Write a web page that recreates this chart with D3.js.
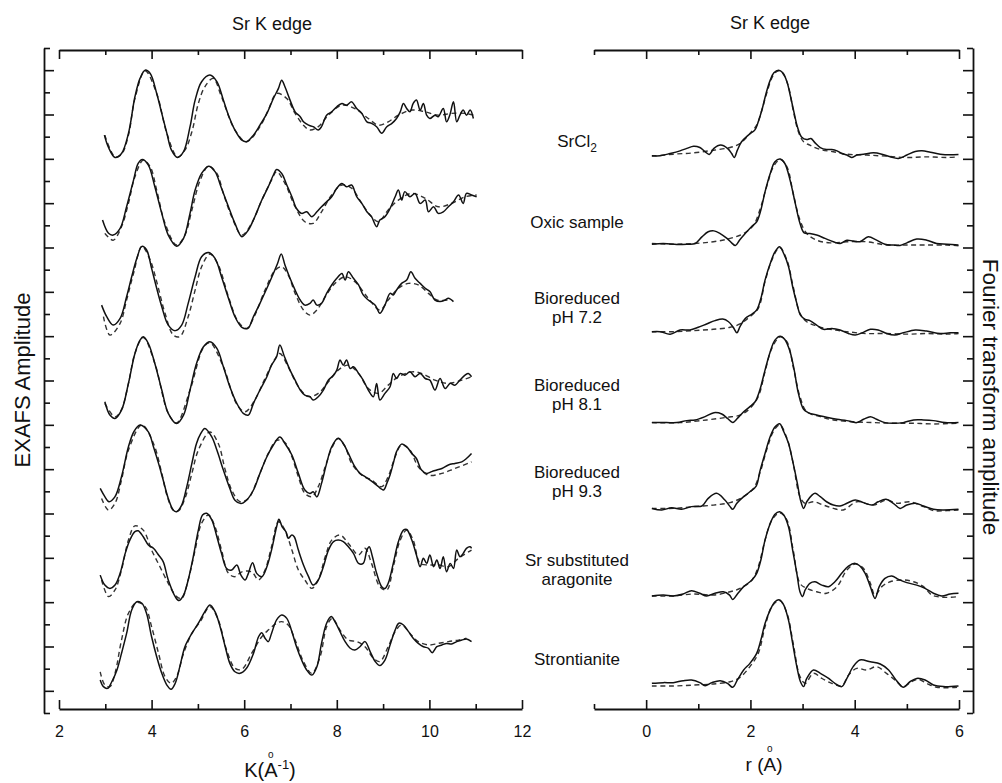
<!DOCTYPE html>
<html>
<head>
<meta charset="utf-8">
<script src="https://cdn.jsdelivr.net/npm/d3@7"></script>
<style>
  body { margin: 0; background: #fff; }
  text { font-family: "Liberation Sans", Arial, sans-serif; fill: #111; }
</style>
</head>
<body>
<svg width="1002" height="783"></svg>
<script>
//sample names (one or two lines each)
const sampleLabels = [["SrCl2"], ["Oxic sample"], ["Bioreduced", "pH 7.2"], ["Bioreduced", "pH 8.1"],
	["Bioreduced", "pH 9.3"], ["Sr substituted", "aragonite"], ["Strontianite"]];
//vertical stacking of the traces
const exafsCenter = [27, 23, 19, 15, 11, 7, 3];
const ftBase = [25, 21, 17, 13, 9, 5, 1];
//tick labels
const kTicks = [2, 4, 6, 8, 10, 12];
const kMinor = [3, 5, 7, 9, 11];
const rTicks = [0, 2, 4, 6];
const rMinor = [-1, 1, 3, 5];

//EXAFS k-space: [k, chi] measured / fitted
const kSrCl2 = [[2.98,-0.93],[3.07,-1.49],[3.21,-1.94],[3.35,-1.76],[3.50,-0.85],[3.64,0.80],[3.75,1.63],[3.86,2.00],[3.97,1.85],[4.11,0.95],[4.22,0.05],[4.33,-0.85],[4.43,-1.61],[4.56,-1.94],[4.69,-1.68],[4.83,-0.55],[4.94,0.65],[5.08,1.48],[5.26,1.78],[5.41,1.48],[5.55,0.65],[5.66,-0.03],[5.80,-0.70],[5.95,-1.16],[6.05,-1.23],[6.20,-0.93],[6.34,-0.48],[6.49,0.05],[6.63,0.72],[6.74,1.18],[6.81,1.55],[6.88,1.25],[6.99,0.65],[7.10,0.12],[7.21,-0.10],[7.28,-0.33],[7.39,-0.48],[7.49,-0.55],[7.60,-0.70],[7.67,-0.55],[7.78,-0.03],[7.89,0.12],[8.00,0.35],[8.11,0.50],[8.21,0.42],[8.32,0.57],[8.43,0.27],[8.54,0.05],[8.65,-0.33],[8.75,-0.40],[8.86,-0.55],[8.97,-0.85],[9.08,-0.55],[9.19,-0.40],[9.29,-0.18],[9.37,0.12],[9.44,0.50],[9.51,0.27],[9.58,0.12],[9.65,0.50],[9.72,0.65],[9.80,0.20],[9.87,0.50],[9.94,-0.03],[10.01,-0.18],[10.12,-0.03],[10.19,-0.10],[10.30,0.27],[10.37,-0.33],[10.44,-0.03],[10.52,0.57],[10.59,-0.33],[10.66,-0.03],[10.73,0.20],[10.80,-0.03],[10.88,0.20],[10.95,-0.18]];
const kSrCl2Fit = [[2.99,-0.93],[3.21,-1.91],[3.35,-1.79],[3.50,-0.93],[3.64,0.72],[3.86,1.97],[4.11,0.95],[4.33,-0.85],[4.56,-1.91],[4.72,-1.61],[4.87,-0.78],[5.01,0.50],[5.15,1.25],[5.33,1.63],[5.51,0.80],[5.80,-0.70],[6.05,-1.23],[6.34,-0.55],[6.52,0.20],[6.70,0.95],[6.92,0.72],[7.10,0.05],[7.28,-0.48],[7.42,-0.70],[7.60,-0.55],[7.82,-0.03],[8.11,0.42],[8.39,0.27],[8.68,-0.18],[8.90,-0.48],[9.11,-0.33],[9.33,-0.03],[9.62,0.20],[9.91,0.12],[10.19,-0.03],[10.48,0.05],[10.77,0.05],[10.95,-0.03]];
const kOxic = [[2.94,-0.76],[3.07,-1.36],[3.17,-1.44],[3.32,-1.14],[3.46,-0.16],[3.61,1.04],[3.71,1.79],[3.80,1.97],[3.93,1.72],[4.07,0.74],[4.22,-0.46],[4.36,-1.44],[4.54,-1.94],[4.69,-1.59],[4.83,-0.46],[4.94,0.59],[5.08,1.34],[5.23,1.67],[5.37,1.42],[5.51,0.67],[5.66,-0.16],[5.80,-0.91],[5.95,-1.51],[6.09,-1.21],[6.23,-0.61],[6.38,0.14],[6.52,0.74],[6.63,1.27],[6.70,1.52],[6.81,1.34],[6.92,0.82],[7.03,0.29],[7.13,-0.24],[7.24,-0.46],[7.35,-0.39],[7.46,-0.61],[7.57,-0.39],[7.67,-0.16],[7.78,0.06],[7.89,0.29],[8.00,0.67],[8.11,0.89],[8.21,0.74],[8.32,0.82],[8.43,0.29],[8.54,-0.01],[8.65,-0.39],[8.75,-0.61],[8.86,-1.06],[8.93,-0.76],[9.04,-0.61],[9.15,-0.24],[9.26,0.29],[9.33,0.59],[9.40,0.14],[9.47,0.52],[9.58,0.29],[9.69,0.44],[9.80,-0.01],[9.91,0.14],[9.98,-0.39],[10.09,-0.16],[10.19,-0.46],[10.30,-0.39],[10.41,-0.16],[10.52,0.06],[10.63,0.37],[10.73,-0.01],[10.80,0.44],[10.91,0.37],[11.02,0.29]];
const kOxicFit = [[2.99,-1.36],[3.17,-1.67],[3.35,-1.06],[3.50,-0.01],[3.64,1.19],[3.82,1.94],[3.97,1.64],[4.11,0.59],[4.29,-0.91],[4.54,-1.89],[4.72,-1.44],[4.87,-0.31],[5.05,1.04],[5.23,1.67],[5.41,1.34],[5.55,0.44],[5.73,-0.61],[5.95,-1.44],[6.16,-0.91],[6.38,0.14],[6.59,1.04],[6.70,1.42],[6.88,0.89],[7.10,-0.16],[7.31,-0.84],[7.49,-0.91],[7.67,-0.39],[7.89,0.37],[8.11,0.82],[8.32,0.67],[8.54,-0.01],[8.75,-0.61],[8.90,-0.84],[9.11,-0.31],[9.33,0.14],[9.62,0.44],[9.91,0.22],[10.19,-0.16],[10.48,-0.01],[10.77,0.29],[11.02,0.37]];
const kPh72 = [[2.92,-0.60],[3.03,-1.12],[3.17,-1.50],[3.32,-1.20],[3.46,-0.22],[3.57,0.68],[3.68,1.50],[3.79,2.05],[3.89,1.90],[4.00,1.06],[4.11,0.16],[4.22,-0.67],[4.36,-1.50],[4.51,-1.75],[4.65,-1.50],[4.79,-0.52],[4.94,0.68],[5.08,1.58],[5.23,1.77],[5.37,1.51],[5.51,0.68],[5.66,-0.29],[5.80,-1.12],[5.95,-1.60],[6.08,-1.65],[6.20,-1.12],[6.34,-0.52],[6.49,0.16],[6.63,0.83],[6.72,1.28],[6.80,1.71],[6.88,1.21],[6.99,0.61],[7.10,0.08],[7.21,-0.37],[7.31,-0.60],[7.42,-0.52],[7.49,-0.37],[7.57,-0.60],[7.67,-0.52],[7.78,-0.07],[7.89,0.31],[8.00,0.61],[8.11,0.83],[8.18,0.53],[8.25,0.91],[8.36,0.61],[8.47,0.31],[8.57,-0.14],[8.68,-0.37],[8.83,-0.60],[8.93,-0.97],[9.04,-0.60],[9.15,-0.07],[9.22,-0.14],[9.29,0.08],[9.40,0.38],[9.51,0.53],[9.60,0.91],[9.69,0.61],[9.80,0.38],[9.91,0.16],[10.01,0.01],[10.12,-0.37],[10.23,-0.44],[10.34,-0.37],[10.41,-0.29],[10.52,-0.44]];
const kPh72Fit = [[2.96,-1.12],[3.10,-1.95],[3.32,-1.42],[3.46,-0.37],[3.61,0.83],[3.79,2.05],[3.97,1.43],[4.11,0.46],[4.29,-0.97],[4.47,-1.95],[4.61,-2.02],[4.79,-1.12],[4.94,0.08],[5.08,1.13],[5.26,1.71],[5.44,1.21],[5.66,-0.22],[5.87,-1.35],[6.05,-1.65],[6.23,-1.05],[6.45,0.08],[6.67,0.98],[6.81,1.13],[6.95,0.76],[7.10,-0.07],[7.28,-0.82],[7.42,-1.05],[7.57,-0.82],[7.75,-0.22],[7.96,0.38],[8.18,0.68],[8.39,0.46],[8.68,-0.29],[8.93,-0.82],[9.11,-0.37],[9.33,0.16],[9.55,0.38],[9.76,0.31],[9.98,-0.07],[10.16,-0.37],[10.41,-0.37]];
const kPh81 = [[2.99,-0.96],[3.10,-1.56],[3.21,-1.71],[3.35,-1.34],[3.50,-0.13],[3.64,1.22],[3.75,1.82],[3.82,1.97],[3.93,1.67],[4.07,0.77],[4.22,-0.43],[4.36,-1.48],[4.54,-1.94],[4.69,-1.56],[4.83,-0.43],[4.97,0.77],[5.12,1.52],[5.26,1.75],[5.41,1.45],[5.55,0.62],[5.69,-0.28],[5.84,-1.03],[5.98,-1.48],[6.09,-1.56],[6.20,-1.03],[6.34,-0.43],[6.49,0.17],[6.59,0.69],[6.70,1.07],[6.77,1.60],[6.87,1.07],[6.99,0.47],[7.10,0.02],[7.21,-0.43],[7.31,-0.66],[7.42,-0.73],[7.49,-0.88],[7.60,-0.73],[7.71,-0.43],[7.82,0.02],[7.93,0.24],[8.00,0.47],[8.07,0.92],[8.14,0.69],[8.21,0.92],[8.29,0.54],[8.36,0.62],[8.47,0.32],[8.57,0.02],[8.68,-0.43],[8.79,-0.73],[8.86,-0.13],[8.93,-0.88],[9.04,-0.58],[9.15,-0.28],[9.22,0.32],[9.29,0.09],[9.37,0.32],[9.47,0.24],[9.58,0.39],[9.69,0.17],[9.80,0.32],[9.91,0.09],[10.01,0.02],[10.12,-0.43],[10.23,0.09],[10.34,-0.36],[10.45,-0.13],[10.55,-0.21],[10.66,0.02],[10.77,0.24],[10.84,0.32],[10.91,0.17]];
const kPh81Fit = [[2.99,-1.03],[3.21,-1.64],[3.35,-1.31],[3.50,-0.13],[3.64,1.22],[3.82,1.94],[4.07,0.77],[4.36,-1.48],[4.54,-1.91],[4.83,-0.43],[5.12,1.49],[5.26,1.70],[5.55,0.62],[5.84,-1.07],[6.02,-1.41],[6.23,-0.88],[6.45,0.09],[6.67,0.99],[6.77,1.22],[6.95,0.62],[7.17,-0.28],[7.39,-0.73],[7.60,-0.58],[7.82,-0.06],[8.03,0.47],[8.25,0.69],[8.47,0.32],[8.68,-0.36],[8.90,-0.58],[9.11,-0.21],[9.33,0.17],[9.62,0.39],[9.83,0.32],[10.12,0.02],[10.41,-0.13],[10.70,0.02],[10.91,0.17]];
const kPh93 = [[2.89,-0.87],[2.99,-1.24],[3.08,-1.47],[3.21,-1.24],[3.35,-0.34],[3.50,1.01],[3.62,1.70],[3.75,1.99],[3.93,1.68],[4.04,1.01],[4.15,0.26],[4.25,-0.49],[4.36,-1.32],[4.47,-1.85],[4.54,-1.92],[4.65,-1.62],[4.76,-0.79],[4.87,0.26],[4.97,1.16],[5.06,1.60],[5.15,1.84],[5.30,1.46],[5.41,0.86],[5.55,-0.04],[5.69,-0.87],[5.80,-1.40],[5.93,-1.55],[6.05,-1.40],[6.20,-0.94],[6.34,-0.19],[6.49,0.56],[6.63,1.09],[6.77,1.45],[6.88,1.16],[7.03,0.64],[7.17,-0.19],[7.31,-0.94],[7.42,-1.10],[7.49,-1.02],[7.57,-1.25],[7.67,-0.64],[7.78,0.26],[7.89,1.01],[8.03,1.40],[8.14,1.16],[8.25,0.71],[8.39,0.11],[8.50,-0.19],[8.61,-0.34],[8.72,-0.49],[8.86,-0.72],[9.01,-0.94],[9.08,-0.64],[9.15,-0.26],[9.22,0.26],[9.29,0.79],[9.40,1.13],[9.51,1.01],[9.62,0.71],[9.72,0.48],[9.83,-0.04],[9.94,-0.19],[10.05,-0.11],[10.16,-0.04],[10.27,0.03],[10.41,0.19],[10.55,0.26],[10.70,0.33],[10.80,0.48],[10.91,0.71]];
const kPh93Fit = [[2.92,-1.32],[3.07,-1.85],[3.21,-1.54],[3.35,-0.49],[3.50,0.86],[3.79,2.00],[4.04,1.16],[4.22,-0.19],[4.33,-1.17],[4.47,-1.85],[4.58,-1.88],[4.72,-1.32],[4.87,-0.19],[5.01,0.86],[5.26,1.68],[5.44,1.16],[5.59,-0.04],[5.73,-0.94],[5.91,-1.47],[6.09,-1.32],[6.31,-0.34],[6.52,0.71],[6.70,1.30],[6.88,1.20],[7.03,0.56],[7.17,-0.34],[7.31,-1.09],[7.46,-1.24],[7.60,-0.79],[7.75,0.11],[7.89,0.94],[8.03,1.38],[8.18,1.01],[8.32,0.26],[8.54,-0.27],[8.75,-0.49],[8.97,-0.79],[9.11,-0.34],[9.26,0.56],[9.40,1.09],[9.58,0.86],[9.76,0.11],[9.98,-0.27],[10.27,-0.19],[10.55,0.03],[10.91,0.33]];
const kArag = [[2.89,-0.78],[2.99,-1.23],[3.10,-1.38],[3.21,-1.23],[3.32,-0.70],[3.43,0.20],[3.53,0.80],[3.64,1.18],[3.71,1.22],[3.82,0.95],[3.93,0.58],[4.04,0.43],[4.15,0.13],[4.25,-0.17],[4.36,-1.00],[4.51,-1.75],[4.59,-1.93],[4.69,-1.68],[4.79,-1.00],[4.90,0.05],[5.01,1.25],[5.10,1.93],[5.19,2.01],[5.30,1.71],[5.41,0.95],[5.51,0.20],[5.62,-0.48],[5.73,-0.55],[5.84,-0.32],[5.93,-0.78],[6.02,-1.00],[6.09,-0.70],[6.18,-0.22],[6.27,-0.70],[6.38,-0.85],[6.49,-0.40],[6.59,0.35],[6.70,1.40],[6.75,1.74],[6.82,1.40],[6.90,1.18],[6.95,0.88],[7.03,1.03],[7.08,0.95],[7.17,0.35],[7.28,-0.32],[7.39,-0.85],[7.49,-1.23],[7.60,-1.00],[7.71,-0.40],[7.82,0.35],[7.93,0.73],[8.03,0.80],[8.14,0.73],[8.25,0.50],[8.36,0.20],[8.47,-0.25],[8.57,-0.25],[8.65,0.35],[8.70,0.50],[8.77,0.05],[8.86,-0.70],[8.97,-1.30],[9.04,-1.38],[9.11,-1.15],[9.22,-0.25],[9.33,0.73],[9.44,1.25],[9.51,1.28],[9.62,0.80],[9.72,0.13],[9.80,-0.40],[9.87,-0.02],[9.94,-0.25],[10.01,0.13],[10.09,-0.40],[10.16,-0.10],[10.23,-0.48],[10.30,0.05],[10.37,-0.63],[10.45,-0.25],[10.52,-0.48],[10.59,0.35],[10.66,0.05],[10.73,0.20],[10.80,0.43],[10.88,0.50],[10.91,0.43]];
const kAragFit = [[2.92,-1.00],[3.07,-1.75],[3.21,-1.45],[3.35,-0.55],[3.50,0.80],[3.64,1.44],[3.82,1.25],[4.00,0.35],[4.18,-0.40],[4.36,-1.15],[4.54,-1.75],[4.65,-1.83],[4.79,-1.00],[4.94,0.35],[5.08,1.56],[5.23,1.93],[5.37,1.40],[5.51,0.35],[5.66,-0.70],[5.80,-0.85],[5.95,-0.63],[6.16,-0.63],[6.31,-1.00],[6.45,-0.55],[6.59,0.50],[6.74,1.63],[6.88,1.25],[7.03,0.35],[7.17,-0.55],[7.31,-1.00],[7.46,-1.38],[7.60,-1.00],[7.75,0.05],[7.89,0.80],[8.07,1.03],[8.25,0.65],[8.47,0.13],[8.61,0.43],[8.75,-0.25],[8.93,-1.30],[9.08,-1.45],[9.22,-0.40],[9.37,0.80],[9.51,1.25],[9.65,0.80],[9.80,-0.25],[9.98,-0.32],[10.19,-0.32],[10.41,-0.40],[10.63,-0.02],[10.91,0.35]];
const kStron = [[2.89,-1.51],[2.96,-1.81],[3.05,-1.89],[3.14,-1.59],[3.25,-1.07],[3.35,-0.31],[3.46,0.59],[3.57,1.65],[3.68,2.02],[3.79,1.95],[3.89,1.50],[4.00,0.44],[4.11,-0.46],[4.22,-1.21],[4.33,-1.74],[4.42,-1.93],[4.51,-1.66],[4.61,-0.91],[4.72,-0.01],[4.87,0.59],[5.01,1.05],[5.15,1.57],[5.26,1.87],[5.37,1.57],[5.48,0.89],[5.59,-0.01],[5.69,-0.76],[5.80,-1.14],[5.91,-1.21],[6.05,-0.98],[6.20,-0.31],[6.31,0.44],[6.38,0.62],[6.45,0.37],[6.52,0.22],[6.59,0.59],[6.70,1.20],[6.81,1.42],[6.92,1.27],[7.03,0.67],[7.13,-0.01],[7.24,-0.61],[7.35,-1.06],[7.46,-1.29],[7.57,-0.91],[7.67,0.14],[7.78,1.05],[7.88,1.35],[7.96,1.12],[8.07,0.67],[8.18,0.22],[8.29,-0.08],[8.39,-0.16],[8.50,-0.01],[8.61,0.22],[8.72,-0.23],[8.83,-0.68],[8.93,-0.86],[9.04,-0.61],[9.15,0.07],[9.26,0.74],[9.34,1.05],[9.44,0.97],[9.55,0.67],[9.65,0.37],[9.76,0.14],[9.87,-0.01],[9.98,-0.08],[10.06,-0.28],[10.16,-0.01],[10.27,0.07],[10.37,0.14],[10.48,0.11],[10.59,0.22],[10.70,0.29],[10.80,0.34],[10.91,0.22]];
const kStronFit = [[2.89,-1.14],[2.99,-1.74],[3.10,-1.81],[3.21,-1.21],[3.35,0.29],[3.50,1.50],[3.68,1.99],[3.86,1.80],[4.00,0.89],[4.15,-0.31],[4.29,-1.36],[4.42,-1.66],[4.54,-1.36],[4.69,-0.31],[4.87,0.59],[5.05,1.12],[5.26,1.80],[5.44,1.20],[5.62,-0.16],[5.80,-0.98],[5.95,-1.03],[6.16,-0.31],[6.38,0.44],[6.52,0.74],[6.70,1.05],[6.81,1.12],[6.95,0.97],[7.10,0.29],[7.28,-0.68],[7.46,-1.21],[7.64,-0.46],[7.78,0.89],[7.90,1.27],[8.07,0.74],[8.25,0.29],[8.43,0.22],[8.61,-0.01],[8.79,-0.53],[8.93,-0.68],[9.11,-0.01],[9.26,0.67],[9.40,0.97],[9.58,0.59],[9.76,0.22],[9.98,0.07],[10.19,0.14],[10.41,0.22],[10.63,0.29],[10.80,0.37]];

//Fourier transform r-space: [r, |FT|] measured / fitted
const rSrCl2 = [[0.11,0.14],[0.27,0.14],[0.46,0.24],[0.65,0.36],[0.78,0.47],[0.91,0.57],[1.03,0.51],[1.13,0.32],[1.21,0.20],[1.30,0.47],[1.43,0.62],[1.56,0.47],[1.64,0.24],[1.69,0.06],[1.75,0.39],[1.83,0.77],[1.96,1.07],[2.09,1.32],[2.15,1.67],[2.22,2.20],[2.30,2.95],[2.38,3.55],[2.45,3.88],[2.54,4.00],[2.62,3.88],[2.70,3.48],[2.77,2.80],[2.84,2.05],[2.90,1.45],[2.98,0.99],[3.08,0.87],[3.16,0.92],[3.24,0.72],[3.34,0.51],[3.46,0.42],[3.56,0.42],[3.66,0.36],[3.75,0.24],[3.85,0.17],[3.94,0.06],[4.04,0.17],[4.17,0.21],[4.36,0.27],[4.52,0.21],[4.68,0.09],[4.84,0.02],[5.00,0.17],[5.16,0.33],[5.29,0.36],[5.45,0.30],[5.64,0.21],[5.83,0.18],[5.99,0.20]];
const rSrCl2Fit = [[0.11,0.12],[0.52,0.21],[0.91,0.27],[1.29,0.39],[1.61,0.51],[1.80,0.69],[1.99,1.14],[2.12,1.52],[2.22,2.20],[2.31,2.95],[2.44,3.78],[2.54,3.97],[2.63,3.82],[2.73,3.25],[2.82,2.20],[2.92,1.22],[3.02,0.77],[3.14,0.62],[3.34,0.42],[3.59,0.32],[3.85,0.21],[4.23,0.17],[4.61,0.12],[5.00,0.06],[5.38,0.09],[5.77,0.06],[5.99,0.09]];
const rOxic = [[0.11,0.15],[0.33,0.18],[0.59,0.14],[0.78,0.15],[0.94,0.18],[1.07,0.48],[1.19,0.71],[1.30,0.75],[1.42,0.63],[1.55,0.41],[1.64,0.21],[1.71,0.09],[1.79,0.33],[1.90,0.63],[2.02,0.94],[2.12,1.16],[2.20,1.69],[2.28,2.51],[2.38,3.34],[2.47,3.87],[2.57,3.99],[2.66,3.79],[2.76,3.04],[2.86,1.99],[2.95,1.09],[3.03,0.66],[3.14,0.63],[3.27,0.56],[3.43,0.41],[3.59,0.26],[3.72,0.18],[3.85,0.33],[3.97,0.29],[4.10,0.26],[4.26,0.48],[4.42,0.33],[4.58,0.15],[4.74,0.11],[4.87,0.09],[5.00,0.21],[5.19,0.38],[5.38,0.33],[5.57,0.18],[5.77,0.15],[5.99,0.11]];
const rOxicFit = [[0.11,0.18],[0.52,0.15],[0.91,0.18],[1.29,0.26],[1.61,0.41],[1.87,0.63],[2.06,1.01],[2.18,1.69],[2.31,2.74],[2.44,3.64],[2.57,3.97],[2.70,3.64],[2.82,2.44],[2.95,1.24],[3.08,0.63],[3.27,0.33],[3.53,0.21],[3.85,0.26],[4.23,0.26],[4.61,0.11],[5.00,0.11],[5.38,0.11],[5.77,0.11],[5.99,0.08]];
const rPh72 = [[0.11,0.20],[0.27,0.20],[0.46,0.09],[0.65,0.28],[0.84,0.28],[1.00,0.40],[1.16,0.55],[1.32,0.70],[1.47,0.77],[1.58,0.65],[1.67,0.40],[1.74,0.15],[1.80,0.43],[1.90,0.80],[2.03,1.00],[2.12,1.18],[2.20,1.70],[2.28,2.53],[2.38,3.28],[2.47,3.80],[2.56,4.03],[2.64,3.72],[2.73,3.14],[2.81,2.23],[2.89,1.48],[2.96,0.95],[3.05,0.76],[3.14,0.70],[3.27,0.50],[3.40,0.31],[3.56,0.35],[3.72,0.28],[3.88,0.12],[4.01,0.05],[4.14,0.15],[4.30,0.31],[4.45,0.28],[4.61,0.12],[4.77,0.05],[4.93,0.15],[5.16,0.28],[5.38,0.23],[5.64,0.12],[5.83,0.15],[5.99,0.15]];
const rPh72Fit = [[0.11,0.20],[0.52,0.20],[0.91,0.25],[1.29,0.31],[1.61,0.40],[1.80,0.55],[1.99,0.88],[2.15,1.25],[2.28,2.46],[2.41,3.43],[2.56,4.00],[2.70,3.43],[2.82,2.23],[2.95,1.03],[3.08,0.65],[3.27,0.46],[3.53,0.31],[3.85,0.20],[4.23,0.12],[4.61,0.12],[5.00,0.09],[5.38,0.12],[5.77,0.09],[5.99,0.12]];
const rPh81 = [[0.11,0.10],[0.39,0.10],[0.59,0.10],[0.78,0.19],[0.94,0.22],[1.13,0.37],[1.30,0.55],[1.45,0.49],[1.56,0.29],[1.66,0.11],[1.75,0.29],[1.87,0.59],[1.99,0.82],[2.09,1.04],[2.18,1.57],[2.28,2.47],[2.38,3.30],[2.47,3.82],[2.57,4.00],[2.66,3.85],[2.76,3.30],[2.84,2.47],[2.92,1.42],[3.02,0.70],[3.11,0.55],[3.27,0.44],[3.46,0.34],[3.66,0.25],[3.85,0.19],[4.04,0.10],[4.17,0.25],[4.30,0.37],[4.42,0.25],[4.58,0.10],[4.74,0.07],[4.93,0.10],[5.13,0.22],[5.32,0.22],[5.51,0.19],[5.73,0.10],[5.99,0.10]];
const rPh81Fit = [[0.11,0.10],[0.65,0.10],[1.16,0.22],[1.55,0.34],[1.80,0.44],[1.99,0.74],[2.15,1.27],[2.28,2.40],[2.41,3.45],[2.57,3.97],[2.70,3.75],[2.82,2.62],[2.95,1.27],[3.08,0.59],[3.34,0.37],[3.59,0.22],[3.97,0.14],[4.36,0.10],[4.74,0.07],[5.13,0.07],[5.51,0.04],[5.99,0.07]];
const rPh93 = [[0.11,0.23],[0.30,0.16],[0.49,0.26],[0.68,0.19],[0.87,0.31],[1.07,0.34],[1.19,0.68],[1.35,0.91],[1.51,0.61],[1.61,0.31],[1.66,0.19],[1.74,0.46],[1.87,0.76],[1.99,0.98],[2.11,1.24],[2.18,1.89],[2.28,2.71],[2.38,3.47],[2.47,3.90],[2.56,4.05],[2.64,3.69],[2.73,3.17],[2.82,2.26],[2.90,1.36],[2.96,0.61],[3.02,0.23],[3.08,0.53],[3.18,0.83],[3.24,0.91],[3.34,0.76],[3.46,0.53],[3.59,0.38],[3.72,0.34],[3.85,0.46],[4.01,0.61],[4.17,0.49],[4.33,0.38],[4.45,0.53],[4.60,0.64],[4.74,0.46],[4.87,0.23],[5.00,0.38],[5.16,0.46],[5.32,0.34],[5.51,0.19],[5.70,0.16],[5.99,0.19]];
const rPh93Fit = [[0.11,0.23],[0.52,0.23],[0.91,0.31],[1.29,0.38],[1.61,0.49],[1.87,0.76],[2.06,1.14],[2.18,1.81],[2.31,2.86],[2.44,3.70],[2.56,4.00],[2.70,3.40],[2.82,2.26],[2.95,0.76],[3.05,0.46],[3.21,0.53],[3.40,0.38],[3.59,0.23],[3.78,0.16],[4.04,0.53],[4.36,0.38],[4.61,0.61],[4.81,0.46],[5.06,0.53],[5.32,0.31],[5.51,0.13],[5.77,0.13],[5.99,0.16]];
const rArag = [[0.11,0.28],[0.33,0.32],[0.52,0.28],[0.71,0.37],[0.87,0.52],[1.03,0.40],[1.16,0.28],[1.32,0.40],[1.48,0.47],[1.60,0.32],[1.66,0.12],[1.75,0.37],[1.87,0.70],[2.03,1.00],[2.12,1.30],[2.20,1.90],[2.28,2.80],[2.38,3.55],[2.47,3.97],[2.56,4.08],[2.64,3.93],[2.73,3.40],[2.81,2.35],[2.89,1.30],[2.95,0.47],[3.00,0.25],[3.05,0.55],[3.14,0.85],[3.24,0.92],[3.37,0.77],[3.50,0.70],[3.62,0.92],[3.75,1.30],[3.88,1.63],[4.01,1.75],[4.10,1.63],[4.20,1.30],[4.30,0.70],[4.39,0.17],[4.47,0.70],[4.58,1.07],[4.71,1.18],[4.84,1.03],[5.00,0.88],[5.19,0.77],[5.35,0.62],[5.51,0.40],[5.67,0.28],[5.83,0.37],[5.99,0.40]];
const rAragFit = [[0.11,0.28],[0.52,0.28],[0.91,0.37],[1.29,0.32],[1.61,0.47],[1.80,0.62],[2.03,1.00],[2.15,1.60],[2.28,2.80],[2.41,3.70],[2.56,4.03],[2.70,3.70],[2.82,2.35],[2.95,0.85],[3.08,0.62],[3.27,0.47],[3.46,0.40],[3.66,0.70],[3.85,1.45],[4.01,1.72],[4.17,1.52],[4.30,0.85],[4.39,0.32],[4.52,0.70],[4.68,0.92],[4.93,1.00],[5.13,0.92],[5.32,0.70],[5.48,0.32],[5.70,0.22],[5.99,0.25]];
const rStron = [[0.11,0.34],[0.33,0.37],[0.52,0.37],[0.71,0.46],[0.87,0.49],[1.03,0.37],[1.13,0.23],[1.26,0.37],[1.42,0.46],[1.56,0.34],[1.66,0.16],[1.75,0.49],[1.87,0.94],[1.99,1.24],[2.12,1.69],[2.20,2.29],[2.28,3.04],[2.38,3.65],[2.47,4.02],[2.56,4.10],[2.64,3.87],[2.73,3.19],[2.81,2.14],[2.89,1.09],[2.96,0.41],[3.02,0.19],[3.08,0.56],[3.21,0.94],[3.34,0.79],[3.50,0.56],[3.62,0.34],[3.75,0.19],[3.85,0.56],[3.97,1.09],[4.10,1.39],[4.30,1.31],[4.49,1.21],[4.65,0.94],[4.77,0.56],[4.93,0.16],[5.06,0.41],[5.19,0.56],[5.35,0.49],[5.51,0.26],[5.70,0.19],[5.99,0.22]];
const rStronFit = [[0.11,0.22],[0.52,0.22],[0.91,0.26],[1.29,0.31],[1.61,0.41],[1.80,0.61],[1.99,1.09],[2.15,1.69],[2.28,2.89],[2.41,3.80],[2.56,4.07],[2.70,3.50],[2.82,2.14],[2.95,0.64],[3.05,0.34],[3.21,0.79],[3.37,0.56],[3.56,0.34],[3.75,0.22],[3.88,0.71],[4.04,1.01],[4.23,0.94],[4.42,1.09],[4.61,0.79],[4.81,0.41],[4.93,0.19],[5.09,0.41],[5.22,0.52],[5.38,0.34],[5.57,0.16],[5.99,0.16]];

const exafsData = [kSrCl2, kOxic, kPh72, kPh81, kPh93, kArag, kStron];
const exafsFit = [kSrCl2Fit, kOxicFit, kPh72Fit, kPh81Fit, kPh93Fit, kAragFit, kStronFit];
const ftData = [rSrCl2, rOxic, rPh72, rPh81, rPh93, rArag, rStron];
const ftFit = [rSrCl2Fit, rOxicFit, rPh72Fit, rPh81Fit, rPh93Fit, rAragFit, rStronFit];

(()=>{
	let svg = d3.select("svg");
	let font = '"Liberation Sans", Arial, sans-serif';

	//scales, both panels share the stacked y scale
	let xK = d3.scaleLinear().domain([2, 12]).range([59, 522]),
		xR = d3.scaleLinear().domain([-1, 6]).range([594, 959]),
		y = d3.scaleLinear().domain([0, 30]).range([713, 48]);
	let axisBottomY = 709, axisTopY = 50, leftAxisX = 44, rightAxisX = 973;

	function styleAxis(g, noDomain){
		g.selectAll(".tick line").attr("stroke", "#111").attr("stroke-width", 1.6);
		if(noDomain){ g.select(".domain").remove(); }
		else { g.select(".domain").attr("stroke", "#111").attr("stroke-width", 1.8); }
		g.selectAll("text").attr("font-size", 16).attr("font-family", font).attr("fill", "#111");
	}

	//x axes (major labelled on bottom, minor ticks shorter)
	[[xK, kTicks, kMinor], [xR, rTicks, rMinor]].forEach(([sx, major, minor])=>{
		svg.append("g").attr("transform", "translate(0," + axisBottomY + ")")
			.call(d3.axisBottom(sx).tickValues(major).tickSize(-9).tickSizeOuter(0).tickPadding(17).tickFormat(d3.format("d")))
			.call(g => styleAxis(g));
		svg.append("g").attr("transform", "translate(0," + axisBottomY + ")")
			.call(d3.axisBottom(sx).tickValues(minor).tickSize(-5).tickFormat(""))
			.call(g => styleAxis(g, true));
		svg.append("g").attr("transform", "translate(0," + axisTopY + ")")
			.call(d3.axisTop(sx).tickValues(major).tickSize(-9).tickSizeOuter(0).tickFormat(""))
			.call(g => styleAxis(g));
		svg.append("g").attr("transform", "translate(0," + axisTopY + ")")
			.call(d3.axisTop(sx).tickValues(minor).tickSize(-5).tickFormat(""))
			.call(g => styleAxis(g, true));
	});

	//y axes: long ticks on odd values, short on even
	let yMajor = d3.range(1, 30, 2), yMinor = d3.range(0, 31, 2);
	svg.append("g").attr("transform", "translate(" + leftAxisX + ",0)")
		.call(d3.axisLeft(y).tickValues(yMajor).tickSize(-10).tickSizeOuter(0).tickFormat(""))
		.call(g => styleAxis(g));
	svg.append("g").attr("transform", "translate(" + leftAxisX + ",0)")
		.call(d3.axisLeft(y).tickValues(yMinor).tickSize(-6).tickFormat(""))
		.call(g => styleAxis(g, true));
	svg.append("g").attr("transform", "translate(" + rightAxisX + ",0)")
		.call(d3.axisRight(y).tickValues(yMajor).tickSize(-10).tickSizeOuter(0).tickFormat(""))
		.call(g => styleAxis(g));
	svg.append("g").attr("transform", "translate(" + rightAxisX + ",0)")
		.call(d3.axisRight(y).tickValues(yMinor).tickSize(-6).tickFormat(""))
		.call(g => styleAxis(g, true));

	//traces
	let curve = d3.curveCatmullRom.alpha(0.5);
	function drawSet(sx, sets, offsets, dashed){
		sets.forEach((pts, i)=>{
			let line = d3.line().x(d => sx(d[0])).y(d => y(offsets[i] + d[1])).curve(curve);
			svg.append("path")
				.attr("d", line(pts))
				.attr("fill", "none")
				.attr("stroke", dashed ? "#333" : "#111")
				.attr("stroke-width", dashed ? 1.4 : 1.5)
				.attr("stroke-dasharray", dashed ? "5,3.5" : null)
				.attr("stroke-linejoin", "round");
		});
	}
	drawSet(xK, exafsFit, exafsCenter, true);
	drawSet(xK, exafsData, exafsCenter, false);
	drawSet(xR, ftFit, ftBase, true);
	drawSet(xR, ftData, ftBase, false);

	//sample labels between the panels
	let labelY = [147, 228, 304, 391, 478, 566, 665];
	sampleLabels.forEach((lines, i)=>{
		let t = svg.append("text").attr("x", 577).attr("y", labelY[i])
			.attr("text-anchor", "middle").attr("font-size", 17);
		lines.forEach((s, j)=>{
			if(s === "SrCl2"){
				t.append("tspan").text("SrCl");
				t.append("tspan").attr("font-size", 12).attr("dy", 5).text("2");
			} else {
				t.append("tspan").attr("x", 577).attr("dy", j ? 19 : 0).text(s);
			}
		});
	});

	//titles
	svg.append("text").attr("x", 272).attr("y", 30).attr("text-anchor", "middle")
		.attr("font-size", 18).text("Sr K edge");
	svg.append("text").attr("x", 770).attr("y", 29).attr("text-anchor", "middle")
		.attr("font-size", 18).text("Sr K edge");

	//axis titles; the angstrom ring sits detached above the A
	function ring(textSel, charIndex, baseY){
		let n = textSel.node();
		let a = n.getStartPositionOfChar(charIndex), b = n.getEndPositionOfChar(charIndex);
		svg.append("text").attr("x", (a.x + b.x)/2).attr("y", baseY - 19)
			.attr("text-anchor", "middle").attr("font-size", 10).text("o");
	}
	let kLab = svg.append("text").attr("x", 270).attr("y", 777).attr("text-anchor", "middle").attr("font-size", 20);
	kLab.append("tspan").text("K(A");
	kLab.append("tspan").attr("font-size", 13).attr("dy", -8).text("-1");
	kLab.append("tspan").attr("dy", 8).text(")");
	ring(kLab, 2, 777);
	let rLab = svg.append("text").attr("x", 764).attr("y", 771).attr("text-anchor", "middle")
		.attr("font-size", 19).text("r (A)");
	ring(rLab, 3, 771);
	svg.append("text").attr("transform", "translate(30,380) rotate(-90)")
		.attr("text-anchor", "middle").attr("font-size", 22).text("EXAFS Amplitude");
	svg.append("text").attr("transform", "translate(983,397) rotate(90)")
		.attr("text-anchor", "middle").attr("font-size", 22.5).text("Fourier transform amplitude");
})();
</script>
</body>
</html>
